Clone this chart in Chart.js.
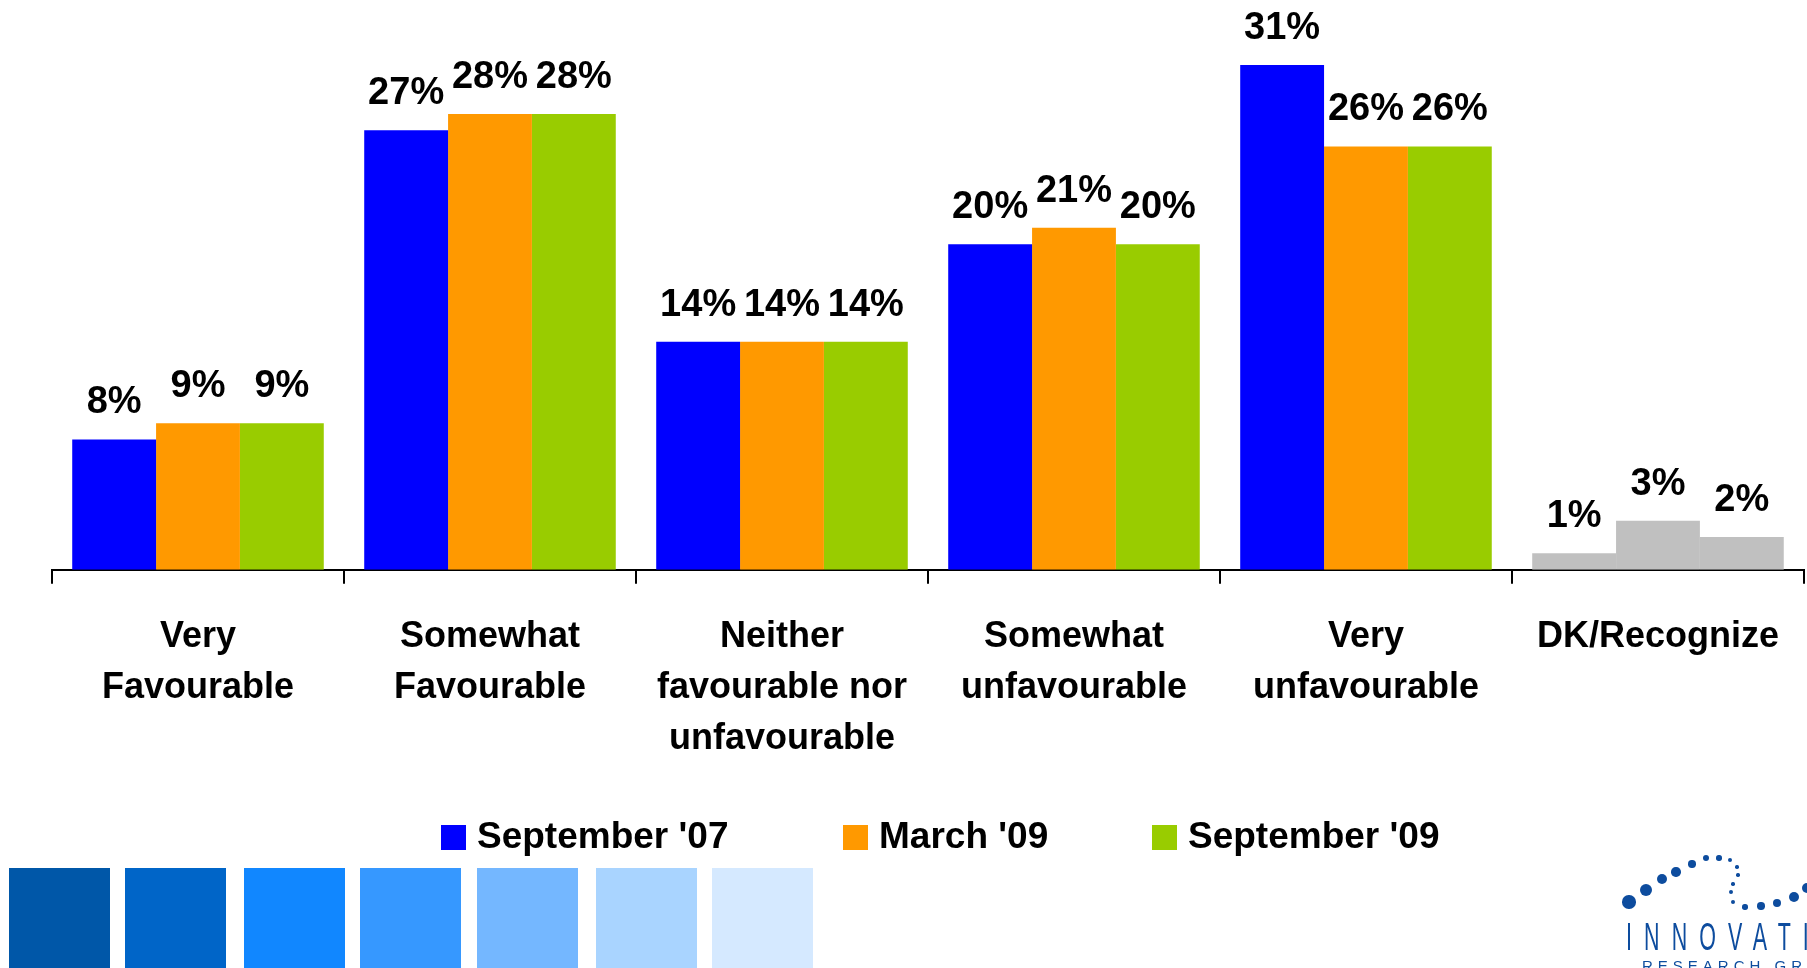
<!DOCTYPE html>
<html>
<head>
<meta charset="utf-8">
<script src="https://cdn.jsdelivr.net/npm/chart.js@4.4.1/dist/chart.umd.min.js"></script>
<style>
html,body{margin:0;padding:0;background:#fff;overflow:hidden;}
#wrap{position:relative;width:1807px;height:968px;overflow:hidden;background:#fff;}
#chart{position:absolute;left:0;top:0;}
.sq{position:absolute;top:868px;height:100px;}
.dot{position:absolute;border-radius:50%;background:#0D4C9E;}
#logoText{position:absolute;left:1626px;top:917px;font-family:"Liberation Sans",Arial,sans-serif;font-size:39px;line-height:1;color:#0D4C9E;letter-spacing:22px;transform:scaleX(0.55);transform-origin:left top;white-space:nowrap;}
#logoSub{position:absolute;left:1642px;top:958px;font-family:"Liberation Sans",Arial,sans-serif;font-size:15px;line-height:1;color:#0D4C9E;letter-spacing:5px;white-space:nowrap;}
</style>
</head>
<body>
<div id="wrap">
  <canvas id="chart" width="1807" height="968"></canvas>
  <div id="logoText">INNOVATIVE</div>
  <div id="logoSub">RESEARCH GROUP</div>
</div>
<script>
// ---- data ----
const categories = [['Very','Favourable'],['Somewhat','Favourable'],['Neither','favourable nor','unfavourable'],['Somewhat','unfavourable'],['Very','unfavourable'],'DK/Recognize'];
const seriesNames = ["September '07", "March '09", "September '09"];
const sep07 = [8, 27, 14, 20, 31, 1];
const mar09 = [9, 28, 14, 21, 26, 3];
const sep09 = [9, 28, 14, 20, 26, 2];

// ---- styles ----
const seriesColors = ['#0000FF', '#FF9900', '#99CC00'];
const dkColor = '#C0C0C0';
const FONT = '"Liberation Sans", Arial, Helvetica, sans-serif';
const legendX = [441, 843, 1152];

function colorsFor(c){ return categories.map((cat, i) => i === categories.length - 1 ? dkColor : c); }

const valueLabels = {
  id: 'valueLabels',
  afterDatasetsDraw(chart){
    const ctx = chart.ctx;
    ctx.save();
    ctx.font = 'bold 38px ' + FONT;
    ctx.fillStyle = '#000';
    ctx.textAlign = 'center';
    ctx.textBaseline = 'alphabetic';
    chart.data.datasets.forEach((ds, i) => {
      const meta = chart.getDatasetMeta(i);
      meta.data.forEach((bar, j) => {
        ctx.fillText(ds.data[j] + '%', bar.x, bar.y - 26);
      });
    });
    ctx.restore();
  }
};

const customLegend = {
  id: 'customLegend',
  afterDraw(chart){
    const ctx = chart.ctx;
    ctx.save();
    ctx.font = 'bold 37px ' + FONT;
    ctx.textAlign = 'left';
    ctx.textBaseline = 'alphabetic';
    chart.data.datasets.forEach((ds, i) => {
      const x = legendX[i];
      ctx.fillStyle = seriesColors[i];
      ctx.fillRect(x, 825, 25, 25);
      ctx.fillStyle = '#000';
      ctx.fillText(ds.label, x + 36, 848);
    });
    ctx.restore();
  }
};

const seriesData = [sep07, mar09, sep09];

new Chart(document.getElementById('chart'), {
  type: 'bar',
  data: {
    labels: categories,
    datasets: seriesData.map((d, i) => ({
      label: seriesNames[i],
      data: d,
      backgroundColor: colorsFor(seriesColors[i]),
      borderWidth: 0,
      categoryPercentage: 0.8615,
      barPercentage: 1.0
    }))
  },
  options: {
    responsive: false,
    animation: false,
    layout: { padding: { left: 52, right: -3, top: 0, bottom: 175 } },
    plugins: { legend: { display: false }, tooltip: { enabled: false }, title: { display: false } },
    scales: {
      x: {
        offset: true,
        grid: { offset: true, drawOnChartArea: false, drawTicks: true, tickLength: 14, color: '#000', lineWidth: 2 },
        border: { display: true, color: '#000', width: 2 },
        ticks: {
          autoSkip: false, maxRotation: 0, minRotation: 0, padding: 28, color: '#000',
          font: { family: FONT, size: 36, weight: 'bold', lineHeight: 1.42 }
        }
      },
      y: { display: false, min: 0, max: 35 }
    }
  },
  plugins: [valueLabels, customLegend]
});

// ---- decorations (slide footer) ----
const wrap = document.getElementById('wrap');
const squares = [[9,'#0057A8'],[125,'#0065C8'],[244,'#1187FF'],[360,'#3698FF'],[477,'#74B7FF'],[596,'#A9D4FF'],[712,'#D5E9FF']];
squares.forEach(([x, c]) => {
  const d = document.createElement('div');
  d.className = 'sq'; d.style.left = x + 'px'; d.style.width = '101px'; d.style.background = c;
  wrap.appendChild(d);
});
const dots = [[1629,902,6.7],[1646,890,6.3],[1662,879,5.3],[1676,872,4.7],[1692,864,3.7],[1706,858,3],[1719,858,2.7],[1730,860,2],[1737,867,1.7],[1738,875,1.7],[1733,884,1.7],[1731,892,2],[1733,902,2.3],[1745,907,2.7],[1761,906,3.7],[1777,903,4.3],[1794,897,5],[1807,888,5]];
dots.forEach(([x, y, r]) => {
  const d = document.createElement('div');
  d.className = 'dot';
  d.style.left = (x - r) + 'px'; d.style.top = (y - r) + 'px';
  d.style.width = (2 * r) + 'px'; d.style.height = (2 * r) + 'px';
  wrap.appendChild(d);
});
</script>
</body>
</html>
